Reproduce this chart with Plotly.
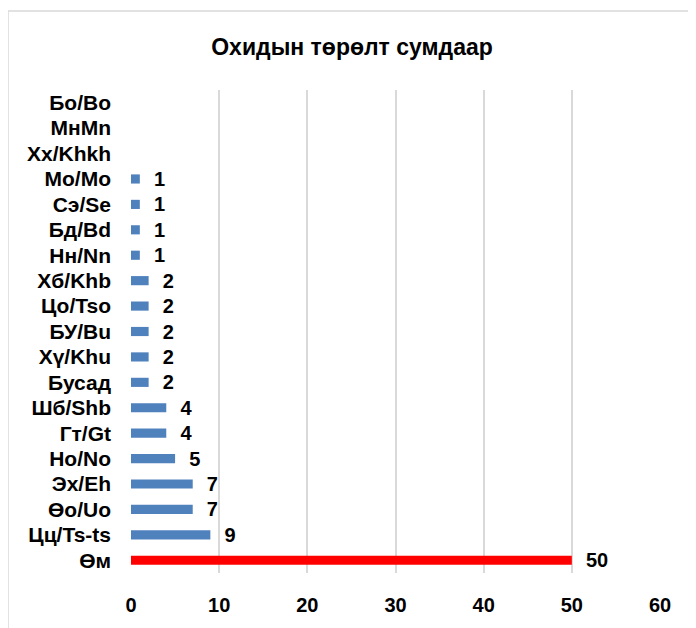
import plotly.graph_objects as go

categories = ["Бо/Во", "МнМn", "Хх/Khkh", "Мо/Мо", "Сэ/Se", "Бд/Bd", "Нн/Nn",
              "Хб/Khb", "Цо/Tso", "БУ/Bu", "Хү/Khu", "Бусад", "Шб/Shb", "Гт/Gt",
              "Но/No", "Эх/Eh", "Өо/Uo", "Цц/Ts-ts", "Өм"]
values = [None, None, None, 1, 1, 1, 1, 2, 2, 2, 2, 2, 4, 4, 5, 7, 7, 9, 50]
x_ticks = [0, 10, 20, 30, 40, 50, 60]

colors = ["#ff0000" if c == "Өм" else "#4f81bd" for c in categories]
labels = ["" if v is None else "\u00a0\u00a0" + str(v) for v in values]

FONT = "Liberation Sans, Arial, sans-serif"

fig = go.Figure(go.Bar(
    y=categories, x=values, orientation="h",
    marker=dict(color=colors, line=dict(width=0)),
    width=0.36,
    text=labels, textposition="outside", cliponaxis=False,
    constraintext="none",
    texttemplate="<b>%{text}</b>",
    textfont=dict(family=FONT, size=20, color="#000000"),
))

OFF = 8  # page body margin
W, H = 696, 628
# target plot area in screenshot pixels: x 131..660, y 90..573
ml = 131 - OFF
mt = 90 - OFF
mr = OFF + W - 660
mb = OFF + H - 573
pw, ph = W - ml - mr, H - mt - mb

def px_x(p):
    return (p - OFF - ml) / pw

def px_y(p):
    return (OFF + H - mb - p) / ph

fig.update_layout(
    width=W, height=H,
    margin=dict(l=ml, r=mr, t=mt, b=mb, pad=0),
    paper_bgcolor="white", plot_bgcolor="white",
    showlegend=False,
    title=dict(text="<b>Охидын төрөлт сумдаар</b>",
               x=px_x(352), xref="paper", xanchor="center",
               y=1 - (47 - OFF) / H, yanchor="middle",
               font=dict(family=FONT, size=23, color="#000000")),
    xaxis=dict(range=[0, 60], tickvals=x_ticks,
               ticktext=["<b>%d</b>" % t for t in x_ticks],
               showgrid=True,
               gridcolor="#d9d9d9", gridwidth=1.5, zeroline=False,
               showline=False, ticks="", ticklabelstandoff=18,
               tickfont=dict(family=FONT, size=20, color="#000000",
                             weight="bold")),
    yaxis=dict(categoryorder="array", categoryarray=categories,
               autorange="reversed", showgrid=False, zeroline=False,
               showline=False, ticks="", ticklabelstandoff=19,
               tickfont=dict(family=FONT, size=21, color="#000000"),
               tickprefix="<b>", ticksuffix="</b>"),
    font=dict(family=FONT),
    shapes=[
        dict(type="line", xref="paper", yref="paper",
             x0=px_x(8), x1=px_x(720), y0=px_y(11), y1=px_y(11),
             line=dict(color="#d9d9d9", width=1.5)),
        dict(type="line", xref="paper", yref="paper",
             x0=px_x(8), x1=px_x(8), y0=px_y(11), y1=px_y(660),
             line=dict(color="#d9d9d9", width=1.5)),
    ],
)

fig.write_html("out.html")
